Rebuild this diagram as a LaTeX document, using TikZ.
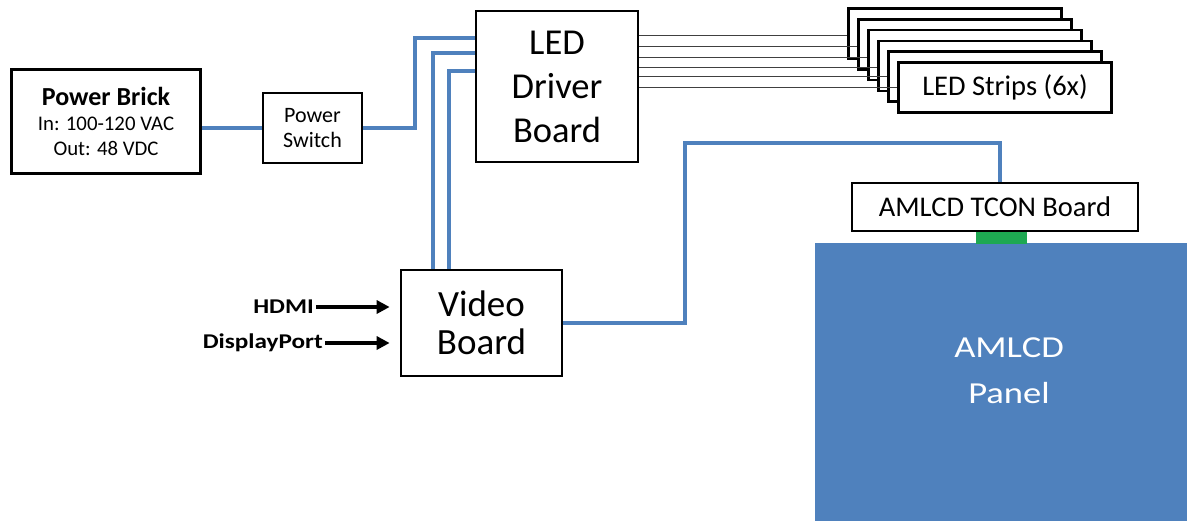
\documentclass[tikz,border=0pt]{standalone}
\usepackage{fontspec}
\setmainfont{Carlito}
\newfontfamily\widefont[FakeStretch=1.2]{Carlito}
\usetikzlibrary{arrows.meta}

\definecolor{cableblue}{RGB}{79,129,189}
\definecolor{panelblue}{RGB}{79,129,189}
\definecolor{flexgreen}{RGB}{30,168,82}

\begin{document}
\begin{tikzpicture}[x=1pt, y=-1pt,
  box/.style={draw, line width=2.7pt, fill=white, align=center, inner sep=0pt},
  stripbox/.style={box, minimum width=213pt, minimum height=50pt},
  cable/.style={cableblue, line width=3.6pt},
  wire/.style={black!75, line width=1pt},
  feed/.style={line width=3.2pt, -{Triangle[length=13pt,width=13pt]}, shorten >=10pt}]

  % Fix the page to the size of the reference
  \useasboundingbox (0,0) rectangle (1187,520);

  % Panel and the flex connector to the TCON board
  \fill[panelblue] (815,243) rectangle (1200,530);
  \fill[flexgreen] (976,231) rectangle (1027,244);
  \node[text=white, align=center, font=\widefont\fontsize{30.5}{46}\selectfont] (panel) at (1009,371) {AMLCD\\Panel};

  % Boards and boxes
  \node[box, line width=3.6pt, minimum width=189pt, minimum height=104pt,
        font=\fontsize{20.8}{25}\selectfont] (brick) at (106,121.5)
        {{\fontsize{26}{26}\selectfont\bfseries Power Brick}\\In: 100-120 VAC\\Out: 48 VDC};
  \node[box, minimum width=99pt, minimum height=70pt, font=\fontsize{22}{25}\selectfont]
        (switch) at (312.5,128) {Power\\Switch};
  \node[box, minimum width=162pt, minimum height=151pt, font=\fontsize{36.5}{44}\selectfont]
        (driver) at (557,86.5) {LED\\Driver\\Board};
  \node[box, minimum width=161pt, minimum height=106pt, font=\fontsize{37}{38}\selectfont]
        (video) at (481.5,323) {Video\\Board};
  \node[box, minimum width=286pt, minimum height=48pt, font=\fontsize{28.5}{30}\selectfont]
        (tcon) at (995,207) {AMLCD TCON Board};

  % Stack of six LED strips, the front one carries the label
  \foreach \i in {0,...,4}
    \node[stripbox] (strip\i) at (955+10*\i, 33.5+10.8*\i) {};
  \node[stripbox, font=\fontsize{28.5}{30}\selectfont] (strip5) at (1005, 87.5) {LED Strips (6x)};

  % One wire from the driver to each strip
  \foreach \i/\y in {0/35, 1/46, 2/57, 3/67, 4/76, 5/87}
    \draw[wire] (driver.east |- 0,\y) -- (strip\i.west |- 0,\y);

  % Power path
  \draw[cable] (brick.east |- switch.west) -- (switch.west);
  \draw[cable] (switch.east) -| (415,38) -- (driver.west |- 0,38);

  % Video board to LED driver
  \draw[cable] (video.north -| 433,0) |- (driver.west |- 0,53);
  \draw[cable] (video.north -| 449,0) |- (driver.west |- 0,71);

  % Video board to TCON board
  \draw[cable] (video.east) -| (685,143) -| (tcon.north -| 1000,0);

  % Video inputs
  \node[anchor=east, inner sep=2pt, font=\widefont\fontsize{21}{24}\selectfont\bfseries] (hdmi) at (316,307) {HDMI};
  \node[anchor=east, inner sep=2pt, font=\widefont\fontsize{21}{24}\selectfont\bfseries] (dp) at (325,343) {DisplayPort};
  \draw[feed] (hdmi) -- (video.west |- hdmi);
  \draw[feed] (dp) -- (video.west |- dp);

\end{tikzpicture}
\end{document}
